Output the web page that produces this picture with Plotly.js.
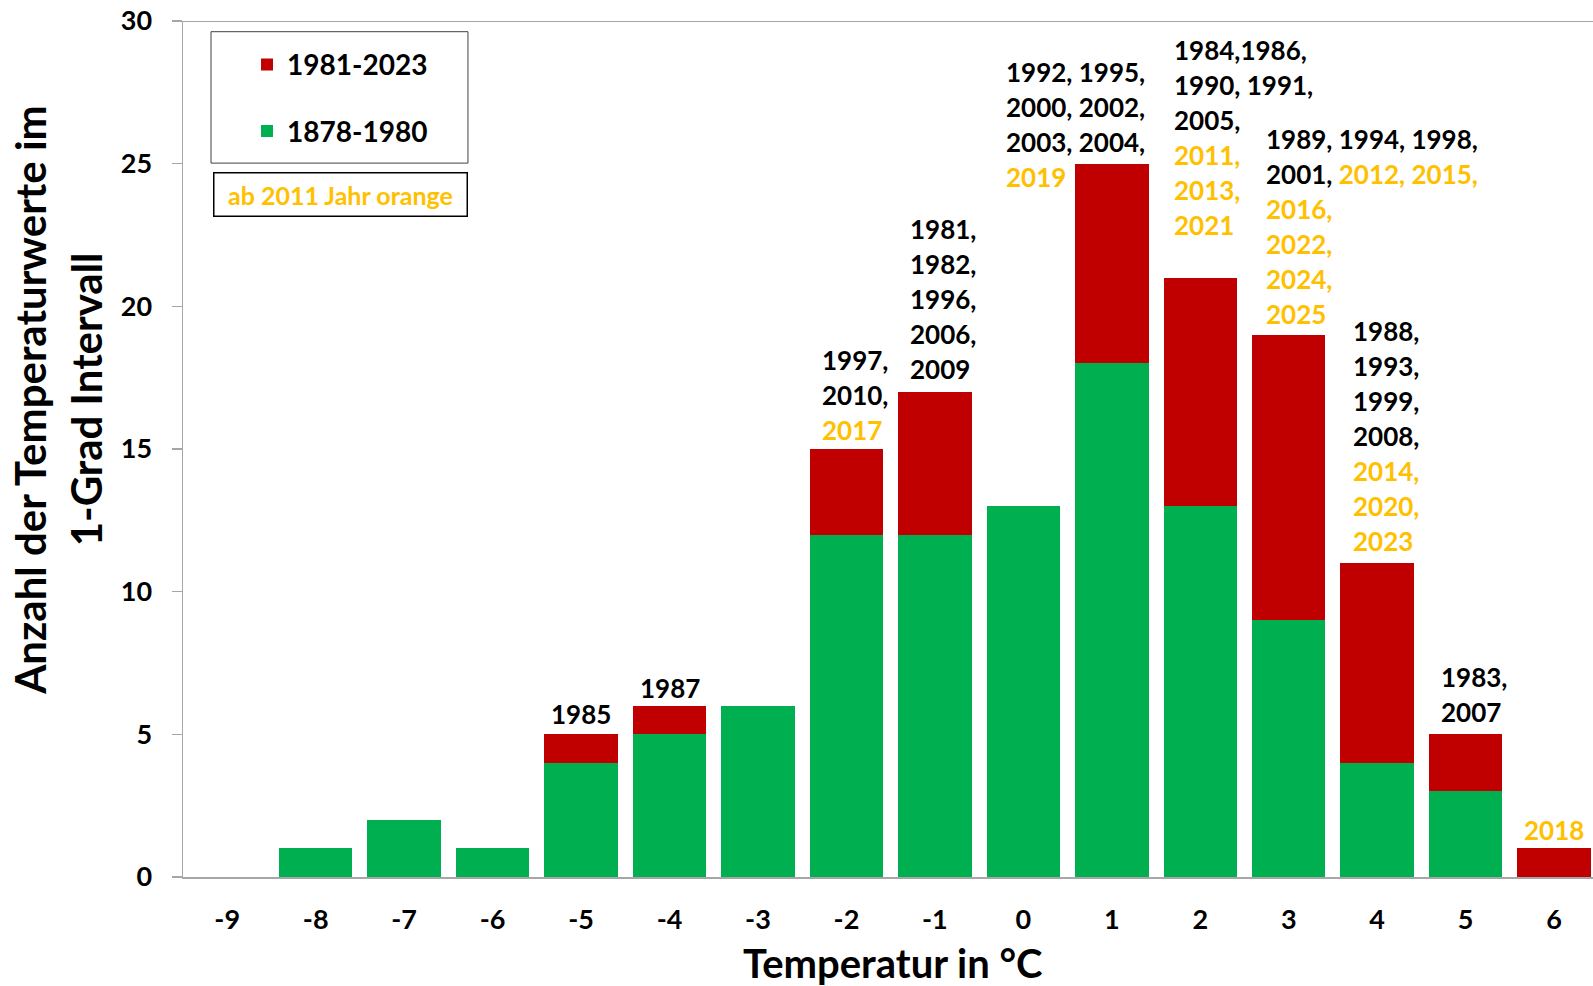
<!DOCTYPE html>
<html>
<head>
<meta charset="utf-8">
<script src="https://cdn.plot.ly/plotly-3.0.1.min.js"></script>
<style>
  html, body { margin: 0; padding: 0; background: #fff; }
  #chart { width: 1593px; height: 986px; }
</style>
</head>
<body>
<div id="chart"></div>
<script>
// ---------- data ----------
const temps = [-9, -8, -7, -6, -5, -4, -3, -2, -1, 0, 1, 2, 3, 4, 5, 6];
const count1878to1980 = [0, 1, 2, 1, 4, 5, 6, 12, 12, 13, 18, 13, 9, 4, 3, 0];
const count1981to2023 = [0, 0, 0, 0, 1, 1, 0, 3, 5, 0, 7, 8, 10, 7, 2, 1];
const yTicks = [0, 5, 10, 15, 20, 25, 30];
const seriesNames = ['1878-1980', '1981-2023'];

// year labels per temperature bin (one entry per printed line)
const labelTemps = [-5, -4, -2, -1, 1, 2, 3, 4, 5, 6];
const labelLines = [
  ['1985'],
  ['1987'],
  ['1997,', '2010,', '2017'],
  ['1981,', '1982,', '1996,', '2006,', '2009'],
  ['1992, 1995,', '2000, 2002,', '2003, 2004,', '2019'],
  ['1984,1986,', '1990, 1991,', '2005,', '2011,', '2013,', '2021'],
  ['1989, 1994, 1998,', '2001, 2012, 2015,', '2016,', '2022,', '2024,', '2025'],
  ['1988,', '1993,', '1999,', '2008,', '2014,', '2020,', '2023'],
  ['1983,', '2007'],
  ['2018']
];
const orangeFromYear = 2011;

// ---------- placement of the label blocks (layout only) ----------
const labelX = [-5, -4, -2.296, -1.30, -0.215, 1.684, 2.724, 3.708, 4.70, 6];
const labelAnchor = ['center', 'center', 'left', 'left', 'left', 'left', 'left', 'left', 'left', 'center'];
const labelBottomY = [5.71, 6.62, 15.67, 17.81, 24.54, 22.85, 19.73, 11.78, 5.78, 1.65];
const LINE_STEP = 35;

// ---------- styles ----------
const RED = '#C00000', GREEN = '#00B050', ORANGE = '#FFC000', AXIS = '#A6A6A6';
const FONT = 'Lato, "Open Sans", sans-serif';

function colorize(line) {
  return line.replace(/(\d{4},?)/g, function (m) {
    const yr = parseInt(m.slice(0, 4), 10);
    return yr >= orangeFromYear ? '<span style="color:' + ORANGE + '">' + m + '</span>' : m;
  });
}

const traces = [
  {
    type: 'bar', name: seriesNames[0], x: temps, y: count1878to1980,
    marker: { color: GREEN }, width: 0.83, legendrank: 2, legendgroup: 'g2'
  },
  {
    type: 'bar', name: seriesNames[1], x: temps, y: count1981to2023,
    marker: { color: RED }, width: 0.83, legendrank: 1, legendgroup: 'g1'
  }
];

const annotations = [];
labelTemps.forEach(function (t, k) {
  const lines = labelLines[k];
  const n = lines.length;
  lines.forEach(function (ln, i) {
    annotations.push({
      x: labelX[k], y: labelBottomY[k], xref: 'x', yref: 'y',
      xanchor: labelAnchor[k], yanchor: 'middle',
      yshift: (n - 1 - i) * LINE_STEP,
      text: colorize(ln), showarrow: false, align: 'left',
      font: { family: FONT, size: 26, color: '#000', weight: 700 }
    });
  });
});

// axis titles
annotations.push({
  xref: 'paper', yref: 'paper', x: -0.1082, y: 0.558, xanchor: 'center', yanchor: 'middle',
  textangle: -90, showarrow: false, text: 'Anzahl der Temperaturwerte im',
  font: { family: FONT, size: 42, color: '#000', weight: 700 }
});
annotations.push({
  xref: 'paper', yref: 'paper', x: -0.0688, y: 0.558, xanchor: 'center', yanchor: 'middle',
  textangle: -90, showarrow: false, text: '1-Grad Intervall',
  font: { family: FONT, size: 42, color: '#000', weight: 700 }
});
annotations.push({
  xref: 'paper', yref: 'paper', x: 0.5035, y: -0.101, xanchor: 'center', yanchor: 'middle',
  showarrow: false, text: 'Temperatur in °C',
  font: { family: FONT, size: 40, color: '#000', weight: 700 }
});
// note box
annotations.push({
  xref: 'paper', yref: 'paper', x: 0.1117, y: 0.797, xanchor: 'center', yanchor: 'middle',
  showarrow: false, text: 'ab 2011 Jahr orange', width: 252, height: 42,
  bordercolor: '#000', borderwidth: 1.5, borderpad: 0, bgcolor: '#fff',
  font: { family: FONT, size: 25, color: ORANGE, weight: 700 }
});

const layout = {
  width: 1593, height: 986,
  margin: { l: 183, r: 0, t: 21, b: 109 },
  paper_bgcolor: '#fff', plot_bgcolor: '#fff',
  barmode: 'stack',
  showlegend: true,
  legend: {
    x: 0.0454, y: 0.978, xanchor: 'left', yanchor: 'top',
    bgcolor: 'rgba(0,0,0,0)', borderwidth: 0,
    tracegroupgap: 27,
    font: { family: FONT, size: 28, color: '#000', weight: 700 }
  },
  xaxis: {
    range: [-9.5, 6.44], tickmode: 'array', tickvals: temps, ticktext: temps.map(String),
    ticks: '', showgrid: false, zeroline: false, showline: true,
    linecolor: AXIS, linewidth: 2, ticklabelstandoff: 18,
    tickfont: { family: FONT, size: 27, color: '#000', weight: 700 }
  },
  yaxis: {
    range: [0, 30], tickmode: 'array', tickvals: yTicks,
    ticks: 'outside', ticklen: 10, tickwidth: 1.5, tickcolor: AXIS,
    showgrid: false, zeroline: false, showline: true, linecolor: AXIS, linewidth: 1.5,
    ticklabelstandoff: 14,
    tickfont: { family: FONT, size: 27, color: '#000', weight: 700 }
  },
  shapes: [
    { type: 'line', xref: 'paper', yref: 'y', x0: 0, x1: 1, y0: 30, y1: 30,
      line: { color: AXIS, width: 2 } },
    { type: 'rect', xref: 'paper', yref: 'paper', x0: 0.01986, x1: 0.2021, y0: 0.834, y1: 0.9875,
      line: { color: '#404040', width: 1 }, fillcolor: 'rgba(0,0,0,0)' }
  ],
  annotations: annotations,
  hovermode: false
};

Plotly.newPlot('chart', traces, layout, { staticPlot: true, displayModeBar: false });
</script>
</body>
</html>
